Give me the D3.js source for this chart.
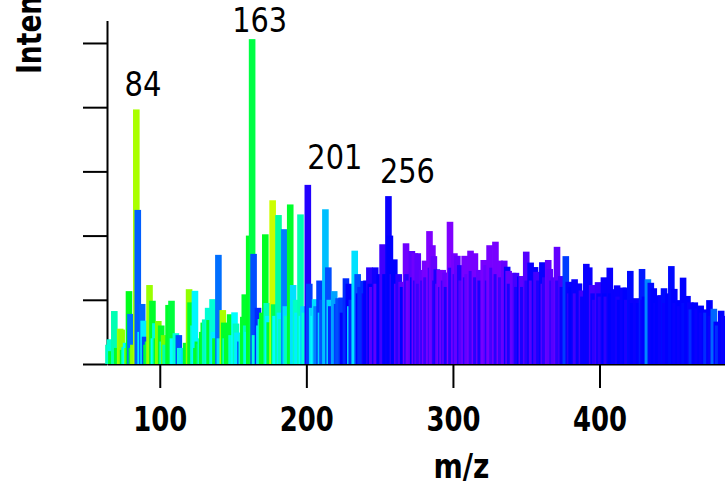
<!DOCTYPE html>
<html><head><meta charset="utf-8">
<script src="https://cdn.jsdelivr.net/npm/d3@7"></script>
<style>
html,body{margin:0;padding:0;background:#fff;overflow:hidden}
svg{display:block}
</style></head><body>
<svg id="chart" width="725" height="487"></svg>
<script>
// [m/z, relative intensity, colour value (0 = yellow ... 1 = violet)]
const peaks = [
[65,6,0.47],[66,7.7,0.5],[67,4,0.3],[69,16.5,0.46],[71,5,0.3],[73,11,0.06],[74,10.7,0.08],[75,4.4,0.3],
[76,5.3,0.5],[77,6.6,0.55],[78,5,0.1],[79,22.7,0.28],[80,15.6,0.72],[81,5,0.3],[82,6,0.08],[84,79.3,0.05],
[85,48,0.74],[87,10,0.55],[88,18.7,0.73],[89,13.5,0.57],[90,8.5,0.77],[91,6,0.3],[92,7,0.35],[93,24.6,0.07],
[95,19.7,0.3],[96,8,0.55],[97,12.7,0.5],[98,8,0.3],[99,13.4,0.1],[101,12,0.3],[102,7,0.5],[103,9,0.12],
[104,6,0.45],[106,18.4,0.3],[108,19.7,0.32],[109,8,0.55],[111,9.6,0.5],[113,9,0.76],[114,5,0.5],[115,5,0.58],
[117,5,0.6],[118,6.6,0.3],[120,23.3,0.08],[121,19.2,0.3],[122,9,0.3],[123,12,0.5],[124,22.8,0.56],[125,5,0.3],
[126,7,0.3],[127,6.2,0.35],[128,8,0.5],[129,10,0.3],[130,12.9,0.3],[131,13.9,0.47],[133,17.5,0.5],[134,13.7,0.3],
[136,20.2,0.5],[137,10,0.57],[138,8,0.3],[140,34,0.72],[141,8,0.58],[143,16.8,0.05],[144,12.9,0.3],[145,8,0.5],
[146,10,0.3],[148,15.5,0.3],[149,9,0.5],[151,16.1,0.55],[152,12.6,0.47],[153,9.8,0.57],[155,7,0.74],[156,9,0.5],
[157,14.7,0.3],[158,21.7,0.3],[159,12,0.47],[160,10,0.55],[161,40,0.29],[163,101.2,0.33],[164,34.3,0.76],[165,9,0.5],
[167,17.5,0.8],[168,12,0.57],[169,14,0.47],[170,16,0.3],[172,40.4,0.29],[173,19,0.47],[174,15,0.56],[175,13,0.3],
[177,51,0.01],[178,18.6,0.35],[179,15,0.55],[181,46.4,0.44],[182,16,0.57],[183,14,0.47],[185,42,0.7],[186,18,0.59],
[187,15,0.47],[189,49.7,0.3],[191,24.6,0.585],[193,20,0.48],[194,16,0.57],[196,46.6,0.46],[197,15,0.55],[198,18,0.6],
[199,16,0.5],[201,55.8,0.89],[202,25,0.78],[204,17.5,0.6],[205,15,0.55],
[206,20.2,0.585],[207,18,0.7],[209,26,0.78],[210,16,0.6],[211,20,0.75],[213,48.2,0.625],[215,30.1,0.76],[216,20,0.6],
[217,18,0.8],[219,22.7,0.66],[221,18.7,0.78],[222,20.5,0.76],[224,20.7,0.78],[225,16,0.85],[227,26.7,0.8],[229,25,0.85],
[230,18,0.6],[231,20,0.8],[233,35.3,0.585],[235,28,0.76],[236,22,0.85],[237,24,0.8],[239,25.9,0.8],[240,22,0.87],
[241,26,0.85],[243,30.1,0.9],[244,25,0.85],[245,24,0.95],[247,30.1,0.87],[248,25,0.96],[250,28,0.85],[252,37.3,0.925],
[254,28,0.85],[256,52.3,0.86],[257,40,0.85],[259,28,0.9],[260,32.6,0.85],[262,25,0.95],[263,28,0.9],[265,25.6,0.96],
[266,24,0.85],[268,37.6,0.98],[269,28,0.9],[270,26,0.98],[272,35.2,0.96],[273,27,0.85],[274,34.5,0.98],[275,26,0.9],
[276,34.5,0.96],[277,25,0.92],[279,29.3,0.97],[280,26,0.9],[281,32.2,0.99],[282,27,0.92],[284,41.4,1.0],[285,30,0.93],
[286,37,0.99],[287,33.6,0.97],[288,26,0.9],[289,29.5,0.88],[290,25,0.95],[291,29.3,0.99],[292,24,0.9],[293,29.3,0.99],
[294,26,0.92],[295,28.5,0.97],[296,24,0.88],[298,44.3,1.0],[299,30,0.9],[301,34.5,0.99],[302,28,0.92],[303,33.7,0.97],
[305,30.8,0.89],[306,26,0.95],[308,33.7,0.99],[309,27,0.9],[310,28,0.97],[312,35.3,0.99],[313,29,0.92],[315,34.5,0.99],
[316,27,0.9],[318,29.3,0.97],[319,26,0.88],[321,32.4,0.99],[323,30.8,0.97],[324,26,0.9],[325,37,0.99],[327,30,0.93],
[329,38.1,0.99],[330,28,0.9],[332,32.2,0.99],[333,27,0.92],[335,32.2,0.97],[337,30.3,0.86],[338,29,0.97],[339,25,0.88],
[341,28.4,0.97],[343,28.4,0.93],[344,24,0.88],[346,27.3,0.85],[347,27.4,0.96],[348,24,0.88],[350,35,0.95],[351,26,0.9],
[353,31.6,0.86],[354,26,0.95],[356,30.2,0.86],[357,28.7,0.93],[359,26,0.88],[361,31.7,0.86],[362,25,0.95],[363,27,0.9],
[365,32.4,0.97],[366,29.6,0.96],[368,26,0.9],[369,27,0.95],[371,36.5,0.965],[372,26,0.9],[374,27.4,0.93],[375,24,0.86],
[377,33.6,0.78],[379,25.6,0.86],[380,22,0.9],[381,24,0.85],[383,26.4,0.86],[384,22,0.92],[386,25.1,0.86],[388,22.9,0.92],
[389,21,0.86],[391,31.2,0.86],[393,30.1,0.86],[395,24.6,0.93],[396,22,0.86],[397,20,0.9],[399,25.5,0.92],[400,22,0.86],
[401,21,0.9],[403,27,0.86],[404,22,0.85],[405,21,0.9],[407,30,0.86],[408,22,0.85],[410,23.3,0.86],[412,24.5,0.86],
[413,21,0.88],[414,20,0.85],[416,23.8,0.86],[418,23.8,0.85],[419,20,0.88],[421,29,0.84],[422,20,0.86],[423,19,0.85],
[425,20.5,0.86],[427,19,0.85],[429,29.6,0.82],[430,20,0.86],[431,21,0.85],[433,26.4,0.69],[435,25.3,0.84],[436,20,0.86],
[437,23.6,0.85],[439,19,0.86],[440,21.4,0.85],[442,21.4,0.86],[444,23.6,0.84],[445,19,0.86],[447,22,0.85],[449,30.5,0.84],
[451,23.4,0.85],[452,19,0.86],[454,19.9,0.85],[455,18,0.86],[457,26.9,0.85],[458,19,0.84],[460,21.2,0.85],[462,19.2,0.86],
[463,17,0.8],[465,19.2,0.85],[467,17.3,0.86],[469,18.2,0.85],[470,16,0.86],[472,17,0.85],[473,16,0.8],[475,19.9,0.85],
[476,15,0.86],[478,17.2,0.73],[480,13.2,0.85],[481,12,0.8],[483,16.6,0.85],[485,15,0.86],[487,14,0.85],[489,13,0.85]
];
const labelledPeaks = [84, 163, 201, 256];
const labelNudges = [[6.7, -13.4], [7.6, -7], [27, -16], [19, -13]];
const xTicks = [100, 200, 300, 400];
const yTicks = [0, 20, 40, 60, 80, 100];
const xDomain = [64, 547];
const yDomain = [0, 107];
const xTitle = "m/z";
const yTitle = "Intensity";

const svg = d3.select("#chart");
const FONT = "'DejaVu Sans', sans-serif";
const x = d3.scaleLinear().domain(xDomain).range([107, 815]);
const y = d3.scaleLinear().domain(yDomain).range([364, 20.5]);
const hue = d3.scaleLinear().domain([0, 1]).range([70, 270]);
const colour = v => d3.hsl(hue(v), 1, 0.5).formatHex();
const barW = 6.6;

// axes
const gx = svg.append("g").attr("transform", "translate(0,364)")
  .call(d3.axisBottom(x).tickValues(xTicks).tickSize(24).tickSizeOuter(0).tickFormat(d3.format("d")));
const gy = svg.append("g").attr("transform", "translate(107,0)")
  .call(d3.axisLeft(y).tickValues(yTicks).tickSize(24).tickSizeOuter(0).tickFormat(""));
[gx, gy].forEach(g => {
  g.selectAll("path, line").attr("stroke", "#000").attr("stroke-width", 2);
});
gx.selectAll("text")
  .attr("y", 67).attr("dy", null)
  .attr("fill", "#000")
  .style("font-family", FONT).style("font-size", "33px").style("font-weight", "bold")
  .attr("textLength", 54).attr("lengthAdjust", "spacingAndGlyphs");

// bars
svg.append("g").selectAll("rect").data(peaks).join("rect")
  .attr("x", d => x(d[0]) - barW / 2)
  .attr("width", barW)
  .attr("y", d => y(d[1]))
  .attr("height", d => y(0) - y(d[1]))
  .attr("fill", d => colour(d[2]));

// peak labels
labelledPeaks.forEach((mz, i) => {
  const p = peaks.find(d => d[0] === mz);
  const s = String(mz);
  svg.append("text")
    .attr("x", x(mz) + labelNudges[i][0])
    .attr("y", y(p[1]) + labelNudges[i][1])
    .attr("text-anchor", "middle")
    .style("font-family", FONT).style("font-size", "33px")
    .attr("textLength", s.length === 2 ? 37 : 55).attr("lengthAdjust", "spacingAndGlyphs")
    .text(s);
});

// titles
svg.append("text")
  .attr("x", 461.5).attr("y", 478)
  .attr("text-anchor", "middle")
  .style("font-family", FONT).style("font-size", "33px").style("font-weight", "bold")
  .attr("textLength", 56).attr("lengthAdjust", "spacingAndGlyphs")
  .text(xTitle);
svg.append("text")
  .attr("transform", "translate(41,74) rotate(-90)")
  .attr("text-anchor", "start")
  .style("font-family", FONT).style("font-size", "33px").style("font-weight", "bold")
  .attr("textLength", 133).attr("lengthAdjust", "spacingAndGlyphs")
  .text(yTitle);
</script>
</body></html>
